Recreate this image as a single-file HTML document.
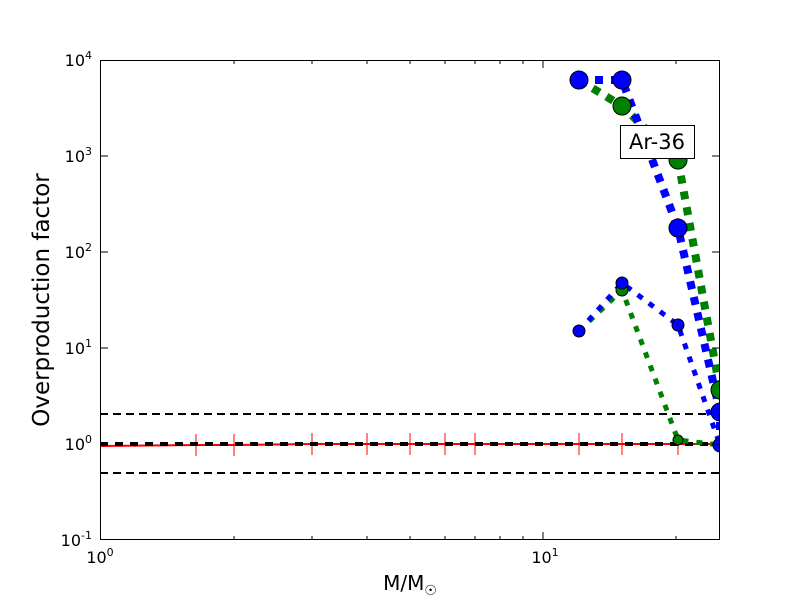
<!DOCTYPE html>
<html><head><meta charset="utf-8"><style>body{margin:0;background:#fff}svg{display:block}</style></head><body>
<svg width="800" height="600" xmlns="http://www.w3.org/2000/svg" font-family="DejaVu Sans, Liberation Sans, sans-serif">
<rect width="800" height="600" fill="#fff"/>
<defs><clipPath id="c"><rect x="100" y="60" width="620" height="480"/></clipPath></defs>
<g clip-path="url(#c)">
<line x1="100" y1="414" x2="720" y2="414" stroke="#000" stroke-width="2" stroke-dasharray="8 5"/>
<line x1="100" y1="473" x2="720" y2="473" stroke="#000" stroke-width="2" stroke-dasharray="8 5"/>
<polyline points="100,446 196,445 234,445 312,444 720,444" fill="none" stroke="red" stroke-width="2"/>
<g stroke="red" stroke-width="1">
<line x1="196" y1="434" x2="196" y2="456"/><line x1="234" y1="434" x2="234" y2="456"/><line x1="312" y1="433" x2="312" y2="455"/><line x1="367" y1="433" x2="367" y2="455"/><line x1="410" y1="433" x2="410" y2="455"/><line x1="445" y1="433" x2="445" y2="455"/><line x1="475" y1="433" x2="475" y2="455"/><line x1="579" y1="433" x2="579" y2="455"/><line x1="622" y1="433" x2="622" y2="455"/><line x1="678" y1="433" x2="678" y2="455"/>
</g>
<line x1="100" y1="444" x2="720" y2="444" stroke="#000" stroke-width="4" stroke-dasharray="8 7"/>
<polyline points="579,80 622,106 678,160 720,390" fill="none" stroke="#008000" stroke-width="8" stroke-dasharray="8 8"/>
<polyline points="579,80 622,80 678,228 720,412 720,445" fill="none" stroke="#0000ff" stroke-width="8" stroke-dasharray="8 8"/>
<polyline points="579,331 622,290 678,440 720,445" fill="none" stroke="#008000" stroke-width="5" stroke-dasharray="6 8"/>
<polyline points="579,331 622,283 678,325 720,445" fill="none" stroke="#0000ff" stroke-width="5" stroke-dasharray="6 8"/>
<g stroke="#000" stroke-width="1">
<circle cx="622" cy="106" r="9" fill="#008000"/><circle cx="678" cy="160" r="9" fill="#008000"/><circle cx="720" cy="390" r="9" fill="#008000"/>
<circle cx="579" cy="80" r="9" fill="#0000ff"/><circle cx="622" cy="80" r="9" fill="#0000ff"/><circle cx="678" cy="228" r="9" fill="#0000ff"/><circle cx="720" cy="412" r="9" fill="#0000ff"/><circle cx="720" cy="445" r="7" fill="#0000ff"/>
<circle cx="622" cy="290" r="6" fill="#008000"/><circle cx="678" cy="440" r="5" fill="#008000"/>
<circle cx="579" cy="331" r="6" fill="#0000ff"/><circle cx="622" cy="283" r="6" fill="#0000ff"/><circle cx="678" cy="325" r="6" fill="#0000ff"/>
</g>
</g>
<rect x="620.5" y="125.5" width="74" height="33" fill="#fff" stroke="#000"/>
<text x="657" y="149" font-size="21" text-anchor="middle">Ar-36</text>
<rect x="100.5" y="60.5" width="619" height="479" fill="none" stroke="#000"/>
<g stroke="#000">
<line x1="100.5" y1="60" x2="100.5" y2="68"/><line x1="543" y1="60" x2="543" y2="68"/><line x1="543" y1="540" x2="543" y2="532"/>
<g stroke-width="1">
<line x1="234" y1="540" x2="234" y2="536"/><line x1="312" y1="540" x2="312" y2="536"/><line x1="367" y1="540" x2="367" y2="536"/><line x1="410" y1="540" x2="410" y2="536"/><line x1="445" y1="540" x2="445" y2="536"/><line x1="475" y1="540" x2="475" y2="536"/><line x1="500" y1="540" x2="500" y2="536"/><line x1="523" y1="540" x2="523" y2="536"/><line x1="676" y1="540" x2="676" y2="536"/>
<line x1="234" y1="60" x2="234" y2="64"/><line x1="312" y1="60" x2="312" y2="64"/><line x1="367" y1="60" x2="367" y2="64"/><line x1="410" y1="60" x2="410" y2="64"/><line x1="445" y1="60" x2="445" y2="64"/><line x1="475" y1="60" x2="475" y2="64"/><line x1="500" y1="60" x2="500" y2="64"/><line x1="523" y1="60" x2="523" y2="64"/><line x1="676" y1="60" x2="676" y2="64"/>
</g>
<line x1="100" y1="156" x2="108" y2="156"/><line x1="100" y1="252" x2="108" y2="252"/><line x1="100" y1="348" x2="108" y2="348"/><line x1="100" y1="444" x2="108" y2="444"/>
<line x1="720" y1="156" x2="712" y2="156"/><line x1="720" y1="252" x2="712" y2="252"/><line x1="720" y1="348" x2="712" y2="348"/><line x1="720" y1="444" x2="712" y2="444"/>
</g>
<g font-size="16" text-anchor="end">
<text x="92" y="66">10<tspan font-size="11" dy="-7">4</tspan></text>
<text x="92" y="162">10<tspan font-size="11" dy="-7">3</tspan></text>
<text x="92" y="258">10<tspan font-size="11" dy="-7">2</tspan></text>
<text x="92" y="354">10<tspan font-size="11" dy="-7">1</tspan></text>
<text x="92" y="450">10<tspan font-size="11" dy="-7">0</tspan></text>
<text x="92" y="546">10<tspan font-size="11" dy="-7">-1</tspan></text>
</g>
<g font-size="16" text-anchor="middle">
<text x="100" y="563">10<tspan font-size="11" dy="-7">0</tspan></text>
<text x="545" y="563">10<tspan font-size="11" dy="-7">1</tspan></text>
</g>
<text x="410" y="590" font-size="20" text-anchor="middle">M/M<tspan font-size="14" dy="5">☉</tspan></text>
<text transform="translate(49,300) rotate(-90)" font-size="23" text-anchor="middle">Overproduction factor</text>
</svg>
</body></html>
